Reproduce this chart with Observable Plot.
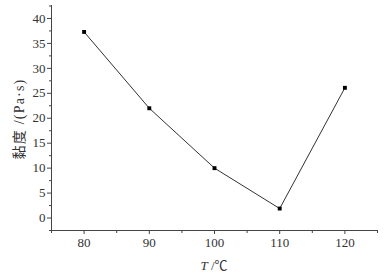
<!DOCTYPE html>
<html><head><meta charset="utf-8">
<script src="https://cdn.jsdelivr.net/npm/d3@7"></script>
<script src="https://cdn.jsdelivr.net/npm/@observablehq/plot@0.6"></script>
<style>body{margin:0;background:#fff} svg text{font-family:"Liberation Serif","Times New Roman","Noto Sans CJK SC",serif}</style>
</head><body><div id="chart"></div>
<script>
const temperatures = [80, 90, 100, 110, 120];
const viscosity = [37.3, 22.0, 10.0, 1.9, 26.1];
const xTicks = [80, 90, 100, 110, 120];
const xMinorTicks = [75, 85, 95, 105, 115, 125];
const yTicks = [0, 5, 10, 15, 20, 25, 30, 35, 40];
const yMinorTicks = [-2.5, 2.5, 7.5, 12.5, 17.5, 22.5, 27.5, 32.5, 37.5, 42.5];
const xDomain = [75, 125];
const yDomain = [-2.5, 42.6];
const yLabel = "黏度 /(Pa·s)";
const xLabelVar = "T";
const xLabelUnit = " /℃";

const data = temperatures.map((t, i) => ({t, v: viscosity[i]}));
const font = "Liberation Serif, Times New Roman, Noto Sans CJK SC, serif";

const chart = Plot.plot({
  width: 387, height: 279,
  marginLeft: 51, marginRight: 10, marginTop: 5, marginBottom: 49,
  style: {fontFamily: font, fontSize: "13px", color: "#333", background: "#fff"},
  x: {domain: xDomain},
  y: {domain: yDomain},
  marks: [
    Plot.axisY(yMinorTicks, {tickSize: 2, text: null, stroke: "#444", label: null}),
    Plot.axisY(yTicks, {tickSize: 4, tickPadding: 2, stroke: "#444", fill: "#333", fontSize: 13, label: null}),
    Plot.axisX(xMinorTicks, {tickSize: 3, text: null, stroke: "#444", label: null}),
    Plot.axisX(xTicks, {tickSize: 4, tickPadding: 3, stroke: "#444", fill: "#333", fontSize: 13, label: null}),
    Plot.ruleX([xDomain[0]], {stroke: "#444"}),
    Plot.ruleY([yDomain[0]], {stroke: "#444"}),
    Plot.line(data, {x: "t", y: "v", stroke: "#333", strokeWidth: 1}),
    Plot.dot(data, {x: "t", y: "v", symbol: "square", r: 2.2, fill: "#000", stroke: "none"})
  ]
});
document.getElementById("chart").appendChild(chart);

const svg = d3.select(chart);
// y-axis title
svg.append("text")
  .attr("transform", "translate(24,119) rotate(-90)")
  .attr("text-anchor", "middle")
  .attr("font-size", 14).attr("letter-spacing", "1.2px").attr("fill", "#333")
  .text(yLabel);
// x-axis title with italic variable
const lab = svg.append("text")
  .attr("x", (51 + 387 - 10) / 2).attr("y", 270)
  .attr("text-anchor", "middle")
  .attr("font-size", 13).attr("fill", "#333");
lab.append("tspan").attr("font-style", "italic").text(xLabelVar);
lab.append("tspan").text(xLabelUnit);
</script>
</body></html>
